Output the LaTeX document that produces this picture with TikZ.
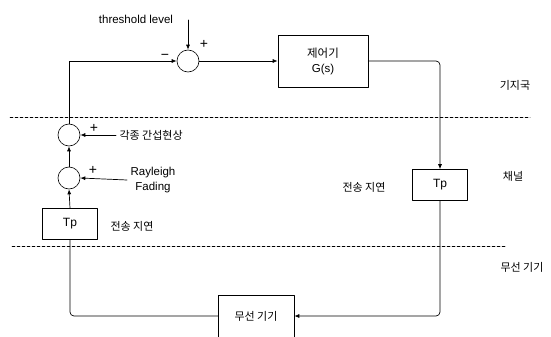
\documentclass[tikz,border=0pt]{standalone}
\usepackage{fontspec}
\setmainfont{Liberation Sans}
\newfontfamily\kr{Noto Sans CJK KR}
\usetikzlibrary{arrows.meta,positioning}
\tikzset{
    every picture/.style={line cap=round,line join=round},
    sumnode/.style={draw,circle,line width=0.6pt,minimum size=22pt,inner sep=0pt},
    ctrlbox/.style={draw,line width=0.6pt,minimum width=90pt,minimum height=52pt,
      align=center,font=\fontsize{11.5}{15}\selectfont},
    delaybox/.style={draw,line width=0.6pt,minimum width=55pt,minimum height=31pt,
      font=\fontsize{12}{14}\selectfont},
    radiobox/.style={draw,line width=0.6pt,minimum width=76pt,minimum height=42pt,
      font=\kr\fontsize{11}{14}\selectfont},
    sigline/.style={draw=black,line width=0.7pt},
    sigarrow/.style={-{Latex[length=5pt,width=4pt]},draw=black,line width=0.7pt},
    zoneline/.style={dashed,dash pattern=on 3pt off 2pt,line width=0.5pt},
    zonelabel/.style={font=\kr\fontsize{11}{14}\selectfont},
    noteleft/.style={font=\fontsize{11.5}{15}\selectfont,align=center},
    signmark/.style={font=\fontsize{14}{16}\selectfont,inner sep=0pt}
}
\begin{document}
\begin{tikzpicture}[x=1pt,y=-1pt]
  \useasboundingbox (0,0) rectangle (551,337);
  % zones
  \draw[zoneline] (10,117) -- (530,117);
  \draw[zoneline] (12,246) -- (505,246);
  \node[zonelabel] (zbase) at (515,85) {기지국};
  \node[zonelabel] (zchan) at (513,176) {채널};
  \node[zonelabel] (zradio) at (522,267) {무선 기기};
  % blocks
  \node[sumnode] (sumtop) at (188,61) {};
  \node[ctrlbox] (ctrl) at (323,61) {{\kr 제어기}\\G(s)};
  \node[delaybox] (tpch) at (440,185) {Tp};
  \node[radiobox] (radio) at (256,316) {무선 기기};
  \node[delaybox] (tpfb) at (70,224) {Tp};
  \node[sumnode] (sumrf) at (69,178) {};
  \node[sumnode] (sumint) at (69,135) {};
  % inputs and notes
  \node[noteleft] (thr) at (136,19) {threshold level};
  \coordinate (thrin) at (188,20);
  \node[noteleft] (rf) at (153,180) {Rayleigh\\Fading};
  \node[zonelabel,anchor=west] (intf) at (116,135) {각종 간섭현상};
  \node[zonelabel] (dlyfb) at (132,226) {전송 지연};
  \node[zonelabel] (dlych) at (364,187) {전송 지연};
  \node[signmark] (ptop) at (204,44) {+};
  \node[signmark] (mtop) at (165,57) {\textminus};
  \node[signmark] (prf) at (93,170) {+};
  \node[signmark] (pint) at (94,128) {+};
  % signal path
  \draw[sigarrow] (thrin) -- (sumtop.north);
  \draw[sigarrow] (sumtop.east) -- (ctrl.west);
  \draw[sigarrow,rounded corners=4pt] (ctrl.east) -| (tpch.north);
  \draw[sigarrow,rounded corners=4pt] (tpch.south) |- (radio.east);
  \draw[sigline,rounded corners=4pt] (radio.west) -| (tpfb.south);
  \draw[sigarrow] (tpfb.north) -- (sumrf.south);
  \draw[sigarrow] (sumrf.north) -- (sumint.south);
  \draw[sigarrow] (sumint.north) |- (sumtop.west);
  \draw[sigarrow] (rf.west) -- (sumrf.east);
  \draw[sigarrow] (intf.west) -- (sumint.east);
\end{tikzpicture}
\end{document}
